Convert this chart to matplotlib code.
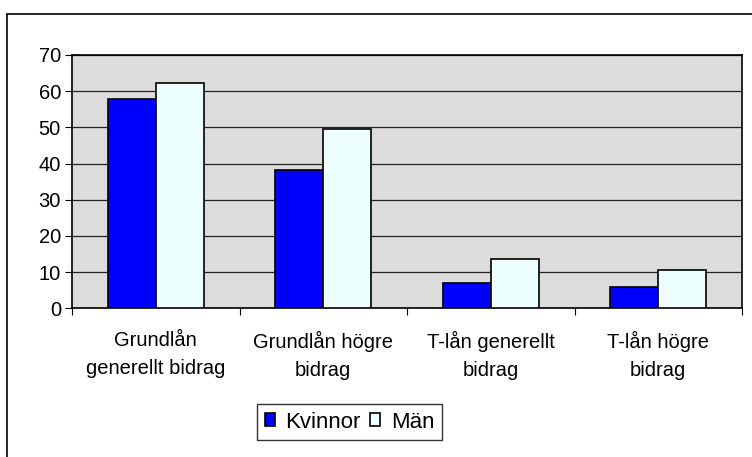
import numpy as np
import matplotlib.pyplot as plt
from matplotlib.patches import Rectangle

plt.rcParams['font.family'] = ['Liberation Sans', 'DejaVu Sans']

# Data
categories = ['Grundlån\ngenerellt bidrag', 'Grundlån högre\nbidrag',
              'T-lån generellt\nbidrag', 'T-lån högre\nbidrag']
kvinnor = [57.8, 38.2, 7.1, 6.0]
man = [62.3, 49.6, 13.7, 10.6]
series_names = ['Kvinnor', 'Män']
yticks = [0, 10, 20, 30, 40, 50, 60, 70]

fig = plt.figure(figsize=(7.52, 4.57), dpi=100)

# Outer chart border (cropped at top/right/bottom in the reference)
fig.patches.append(Rectangle((7 / 752, -0.05), 1.2, (457 - 14) / 457 + 0.05,
                             transform=fig.transFigure, fill=False,
                             edgecolor='black', linewidth=1.2, zorder=0))

ax = fig.add_axes([72 / 752, 1 - 308.3 / 457, 670 / 752, (308.3 - 55) / 457])
ax.set_facecolor('#DCDCDC')

x = np.arange(len(categories))
w = 0.2866
ax.bar(x - w / 2, kvinnor, w, color='#0000FF', edgecolor='black',
       linewidth=1.2, label=series_names[0], zorder=3)
ax.bar(x + w / 2, man, w, color='#EEFFFF', edgecolor='black',
       linewidth=1.2, label=series_names[1], zorder=3)

ax.set_xlim(-0.5, len(categories) - 0.5)
ax.set_ylim(0, 70)
ax.set_yticks(yticks)
ax.yaxis.grid(True, color='#222222', linewidth=0.9, zorder=1)
ax.tick_params(axis='y', labelsize=14.5, length=5, direction='out', pad=3)

# category boundaries as major ticks, labels on minor ticks
ax.set_xticks(np.arange(-0.5, len(categories)))
ax.set_xticklabels([])
ax.set_xticks(x, minor=True)
ax.set_xticklabels(categories, minor=True, fontsize=14.5, linespacing=1.6)
ax.tick_params(axis='x', which='major', length=5, direction='out')
ax.tick_params(axis='x', which='minor', length=0, pad=16)

for s in ax.spines.values():
    s.set_color('black')
    s.set_linewidth(1.2)

leg = fig.legend(loc='center', bbox_to_anchor=(349.5 / 752, 1 - 422 / 457),
                 ncol=2, fontsize=16, frameon=True, fancybox=False,
                 edgecolor='black', handlelength=0.45, handleheight=0.5,
                 handletextpad=0.5, columnspacing=0.4, borderpad=0.35,
                 borderaxespad=0)
leg.get_frame().set_linewidth(1.0)
for h in leg.legend_handles:
    h.set_linewidth(1.2)

fig.savefig('out.png', dpi=100)
